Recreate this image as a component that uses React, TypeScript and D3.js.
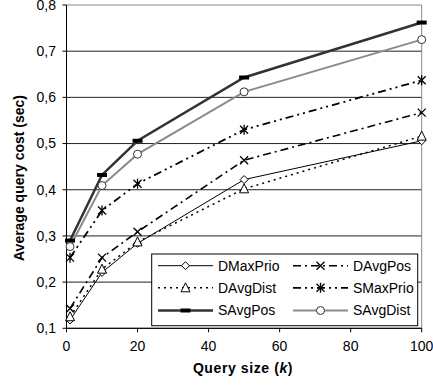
import React from "react";
import * as d3 from "d3";

const querySizes = [1, 10, 20, 50, 100];
const dMaxPrio = [0.118, 0.221, 0.284, 0.422, 0.506];
const dAvgDist = [0.125, 0.228, 0.287, 0.402, 0.516];
const dAvgPos = [0.143, 0.253, 0.309, 0.464, 0.567];
const sMaxPrio = [0.253, 0.355, 0.413, 0.530, 0.637];
const sAvgPos = [0.290, 0.432, 0.506, 0.643, 0.762];
const sAvgDist = [0.277, 0.409, 0.477, 0.612, 0.725];
const xTicks = [0, 20, 40, 60, 80, 100];
const yTicks = [0.1, 0.2, 0.3, 0.4, 0.5, 0.6, 0.7, 0.8];

type Marker = "diamond" | "triangle" | "x" | "star" | "bar" | "circle";
interface Series {
  name: string;
  values: number[];
  color: string;
  width: number;
  dash: string;
  marker: Marker;
}

const series: Series[] = [
  { name: "DMaxPrio", values: dMaxPrio, color: "#000", width: 1, dash: "", marker: "diamond" },
  { name: "DAvgPos", values: dAvgPos, color: "#000", width: 1.6, dash: "8,4,2,4", marker: "x" },
  { name: "DAvgDist", values: dAvgDist, color: "#000", width: 1.5, dash: "2,4", marker: "triangle" },
  { name: "SMaxPrio", values: sMaxPrio, color: "#000", width: 1.8, dash: "8,4,2,4,2,4", marker: "star" },
  { name: "SAvgPos", values: sAvgPos, color: "#333", width: 2.5, dash: "", marker: "bar" },
  { name: "SAvgDist", values: sAvgDist, color: "#8a8a8a", width: 2, dash: "", marker: "circle" },
];

const FONT = "Arial, 'Liberation Sans', sans-serif";

function MarkerShape({ type, x, y }: { type: Marker; x: number; y: number }) {
  const s = 4;
  switch (type) {
    case "diamond":
      return (
        <path d={`M${x},${y - s}L${x + s},${y}L${x},${y + s}L${x - s},${y}Z`} fill="#fff" stroke="#000" strokeWidth={1} />
      );
    case "triangle":
      return (
        <path d={`M${x},${y - s - 1}L${x + s + 0.5},${y + s}L${x - s - 0.5},${y + s}Z`} fill="#fff" stroke="#000" strokeWidth={1} />
      );
    case "x":
      return (
        <path d={`M${x - s},${y - s}L${x + s},${y + s}M${x - s},${y + s}L${x + s},${y - s}`} stroke="#000" strokeWidth={1.3} />
      );
    case "star":
      return (
        <path
          d={`M${x - s},${y - s}L${x + s},${y + s}M${x - s},${y + s}L${x + s},${y - s}M${x},${y - s - 1}L${x},${y + s + 1}`}
          stroke="#000"
          strokeWidth={1.3}
        />
      );
    case "bar":
      return <rect x={x - 5} y={y - 2} width={10} height={4} fill="#000" />;
    case "circle":
      return <circle cx={x} cy={y} r={4} fill="#fff" stroke="#333" strokeWidth={1} />;
  }
}

export default function App() {
  const W = 433;
  const H = 385;
  const left = 66.5;
  const right = 421.7;
  const top = 5;
  const bottom = 328.3;

  const x = d3.scaleLinear().domain([0, 100]).range([left, right]);
  const y = d3.scaleLinear().domain([0.1, 0.8]).range([bottom, top]);
  const line = d3
    .line<[number, number]>()
    .x((d) => x(d[0]))
    .y((d) => y(d[1]));

  const fmt = (v: number) => v.toFixed(1).replace(".", ",");

  const legendX = 151.7;
  const legendY = 254;
  const legendW = 266;
  const legendH = 71.7;
  const rows = [265.7, 287.8, 310.5];
  const legendOrder = [
    [series[0], series[1]],
    [series[2], series[3]],
    [series[4], series[5]],
  ];
  const cols = [
    { x1: 158, x2: 213, text: 218 },
    { x1: 293, x2: 348, text: 353 },
  ];

  return (
    <svg width={W} height={H} style={{ position: "absolute", left: 0, top: 0, background: "#fff" }}>
      <rect x={0} y={0} width={W} height={H} fill="#fff" />
      {yTicks.map((t) => (
        <line
          key={t}
          x1={left}
          x2={right}
          y1={y(t)}
          y2={y(t)}
          stroke={t === 0.8 ? "#888" : "#222"}
          strokeWidth={1}
        />
      ))}
      <line x1={right} x2={right} y1={top} y2={bottom} stroke="#888" strokeWidth={1} />
      <line x1={left} x2={left} y1={top} y2={bottom} stroke="#000" strokeWidth={1} />
      <line x1={left} x2={right} y1={bottom} y2={bottom} stroke="#000" strokeWidth={1} />
      {yTicks.map((t) => (
        <g key={"yt" + t}>
          <line x1={left - 4} x2={left} y1={y(t)} y2={y(t)} stroke="#000" />
          <text x={56} y={y(t)} dy="0.35em" textAnchor="end" fontFamily={FONT} fontSize={14} fill="#000">
            {fmt(t)}
          </text>
        </g>
      ))}
      {xTicks.map((t) => (
        <g key={"xt" + t}>
          <line x1={x(t)} x2={x(t)} y1={bottom} y2={bottom + 4} stroke="#000" />
          <text x={x(t)} y={351} textAnchor="middle" fontFamily={FONT} fontSize={14} fill="#000">
            {t}
          </text>
        </g>
      ))}
      <text x={243} y={373} textAnchor="middle" fontFamily={FONT} fontSize={14} fontWeight="bold" fill="#000" letterSpacing={0.6}>
        Query size (<tspan fontStyle="italic">k</tspan>)
      </text>
      <text
        transform={`translate(24,178) rotate(-90)`}
        textAnchor="middle"
        fontFamily={FONT}
        fontSize={14}
        fontWeight="bold"
        fill="#000"
      >
        Average query cost (sec)
      </text>
      {series.map((s) => (
        <path
          key={s.name}
          d={line(querySizes.map((q, i) => [q, s.values[i]] as [number, number])) || ""}
          fill="none"
          stroke={s.color}
          strokeWidth={s.width}
          strokeDasharray={s.dash || undefined}
        />
      ))}
      {series.map((s) =>
        querySizes.map((q, i) => <MarkerShape key={s.name + q} type={s.marker} x={x(q)} y={y(s.values[i])} />)
      )}
      <rect x={legendX} y={legendY} width={legendW} height={legendH} fill="#fff" stroke="#000" strokeWidth={1} />
      {legendOrder.map((row, ri) =>
        row.map((s, ci) => {
          const c = cols[ci];
          const cy = rows[ri];
          return (
            <g key={"lg" + s.name}>
              <line
                x1={c.x1}
                x2={c.x2}
                y1={cy}
                y2={cy}
                stroke={s.color}
                strokeWidth={s.width}
                strokeDasharray={s.dash || undefined}
              />
              <MarkerShape type={s.marker} x={(c.x1 + c.x2) / 2} y={cy} />
              <text x={c.text} y={cy} dy="0.35em" fontFamily={FONT} fontSize={14} fill="#000">
                {s.name}
              </text>
            </g>
          );
        })
      )}
    </svg>
  );
}
